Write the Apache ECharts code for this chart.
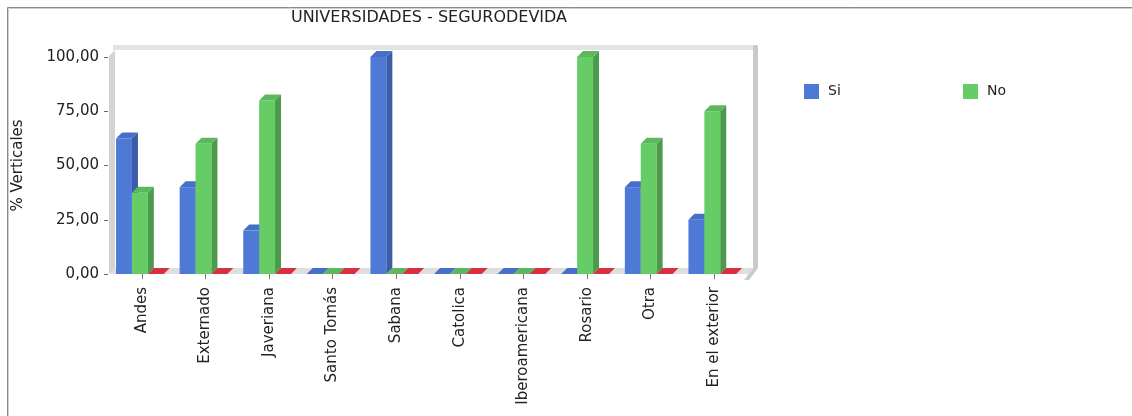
<!DOCTYPE html>
<html>
<head>
<meta charset="utf-8">
<script src="https://cdn.jsdelivr.net/npm/echarts/dist/echarts.min.js"></script>
<style>
html, body { margin: 0; padding: 0; background: #ffffff; }
#chart { width: 1132px; height: 416px; }
</style>
</head>
<body>
<div id="chart"></div>
<script>
// Universities and the share of answers per university
const categories = ['Andes', 'Externado', 'Javeriana', 'Santo Tomás', 'Sabana', 'Catolica', 'Iberoamericana', 'Rosario', 'Otra', 'En el exterior'];
const siValues = [62.5, 40, 20, 0, 100, 0, 0, 0, 40, 25];
const noValues = [37.5, 60, 80, 0, 0, 0, 0, 100, 60, 75];
const nrValues = [0, 0, 0, 0, 0, 0, 0, 0, 0, 0];
const yTicks = [0, 25, 50, 75, 100];

const FONT = 'DejaVu Sans';
const DEPTH = 6;
// plot rectangle (front plane)
const GRID = { left: 110, top: 57, right: 386, bottom: 142 };
const X0 = GRID.left, X1 = 1132 - GRID.right, Y0 = GRID.top, Y1 = 416 - GRID.bottom;

// one 3D column: front face, side face and top face
function bar3d(slot, face, side, top) {
  return function (params, api) {
    const idx = api.value(0);
    const v = api.value(1);
    const base = api.coord([idx, 0]);
    const head = api.coord([idx, v]);
    const band = api.size([1, 0])[0];
    const w = band * 0.25;
    const x = base[0] - band * 0.405 + slot * w;
    const yb = base[1], yt = head[1];
    const children = [];
    if (yb - yt > 0.5) {
      children.push({ type: 'rect', shape: { x: x, y: yt, width: w, height: yb - yt }, style: { fill: face } });
      children.push({ type: 'polygon', shape: { points: [[x + w, yt], [x + w + DEPTH, yt - DEPTH], [x + w + DEPTH, yb - DEPTH], [x + w, yb]] }, style: { fill: side } });
    }
    children.push({ type: 'polygon', shape: { points: [[x, yt], [x + DEPTH, yt - DEPTH], [x + w + DEPTH, yt - DEPTH], [x + w, yt]] }, style: { fill: top } });
    return { type: 'group', children: children };
  };
}

function makeSeries(name, values, slot, face, side, top) {
  return {
    type: 'custom',
    name: name,
    data: values.map(function (v, i) { return [i, v]; }),
    encode: { x: 0, y: 1 },
    renderItem: bar3d(slot, face, side, top),
    itemStyle: { color: face },
    clip: false,
    silent: true,
    z: 3
  };
}

const legendText = { fontFamily: FONT, fontSize: 14, color: '#222', padding: [0, 0, 0, 4] };

const chart = echarts.init(document.getElementById('chart'), null, { renderer: 'canvas' });

chart.setOption({
  backgroundColor: '#ffffff',
  animation: false,
  textStyle: { fontFamily: FONT },
  grid: GRID,
  legend: [
    { data: ['Si'], left: 804, top: 84, padding: 0, itemWidth: 15, itemHeight: 15, icon: 'rect', selectedMode: false, textStyle: legendText },
    { data: ['No'], left: 963, top: 84, padding: 0, itemWidth: 15, itemHeight: 15, icon: 'rect', selectedMode: false, textStyle: legendText }
  ],
  xAxis: {
    type: 'category',
    data: categories,
    offset: 2,
    axisLine: { show: false },
    axisTick: { show: true, alignWithLabel: true, length: 5, lineStyle: { color: '#777' } },
    axisLabel: { rotate: 90, margin: 11, fontFamily: FONT, fontSize: 15, color: '#222' }
  },
  yAxis: {
    type: 'value',
    min: yTicks[0],
    max: yTicks[yTicks.length - 1],
    interval: yTicks[1] - yTicks[0],
    offset: 2,
    name: '% Verticales',
    nameLocation: 'middle',
    nameGap: 82,
    nameTextStyle: { fontFamily: FONT, fontSize: 15, color: '#222' },
    axisLine: { show: false },
    axisTick: { show: true, length: 4, lineStyle: { color: '#666' } },
    splitLine: { show: false },
    axisLabel: {
      margin: 9, fontFamily: FONT, fontSize: 15, color: '#222',
      formatter: function (v) { return v.toFixed(2).replace('.', ','); }
    }
  },
  graphic: [
    // outer frame
    { type: 'line', shape: { x1: 7.5, y1: 7.5, x2: 1132, y2: 7.5 }, style: { stroke: '#8a8a8a', lineWidth: 1 } },
    { type: 'line', shape: { x1: 8.5, y1: 8.5, x2: 1132, y2: 8.5 }, style: { stroke: '#cfcfcf', lineWidth: 1 } },
    { type: 'line', shape: { x1: 7.5, y1: 7.5, x2: 7.5, y2: 416 }, style: { stroke: '#8a8a8a', lineWidth: 1 } },
    { type: 'line', shape: { x1: 8.5, y1: 8.5, x2: 8.5, y2: 416 }, style: { stroke: '#cfcfcf', lineWidth: 1 } },
    // title
    { type: 'text', x: 429, y: 18, style: { text: 'UNIVERSIDADES - SEGURODEVIDA', align: 'center', verticalAlign: 'middle',
      font: '16px "' + FONT + '"', fill: '#222' } },
    // back wall edges
    { type: 'rect', shape: { x: X0 + 3, y: Y0 - 12, width: X1 - X0 + 9, height: 5 }, style: { fill: '#e3e3e3' }, z: 0 },
    { type: 'rect', shape: { x: X1 + 7, y: Y0 - 12, width: 5, height: Y1 - Y0 + 6 }, style: { fill: '#cacaca' }, z: 0 },
    { type: 'polygon', shape: { points: [[X1 + 7, Y1 - 6], [X1 + 12, Y1 - 6], [X1 + 3, Y1 + 6], [X1 - 2, Y1 + 6]] }, style: { fill: '#cacaca' }, z: 0 },
    // left wall
    { type: 'polygon', shape: { points: [[X0 - 1, Y0 - 1], [X0 + 5, Y0 - 7], [X0 + 5, Y1 - 6], [X0 - 1, Y1]] }, style: { fill: '#d3d3d3' }, z: 0 },
    // floor
    { type: 'polygon', shape: { points: [[X0 - 1, Y1], [X1 + 2, Y1], [X1 + 8, Y1 - 6], [X0 + 5, Y1 - 6]] }, style: { fill: '#dedede' }, z: 0 }
  ],
  series: [
    makeSeries('Si', siValues, 0, '#4f79d6', '#3b5ca6', '#4670c8'),
    makeSeries('No', noValues, 1, '#66cc66', '#4c9a4c', '#5cb85c'),
    makeSeries('Sin respuesta', nrValues, 2, '#d8303f', '#a82430', '#d8303f')
  ]
});
</script>
</body>
</html>
